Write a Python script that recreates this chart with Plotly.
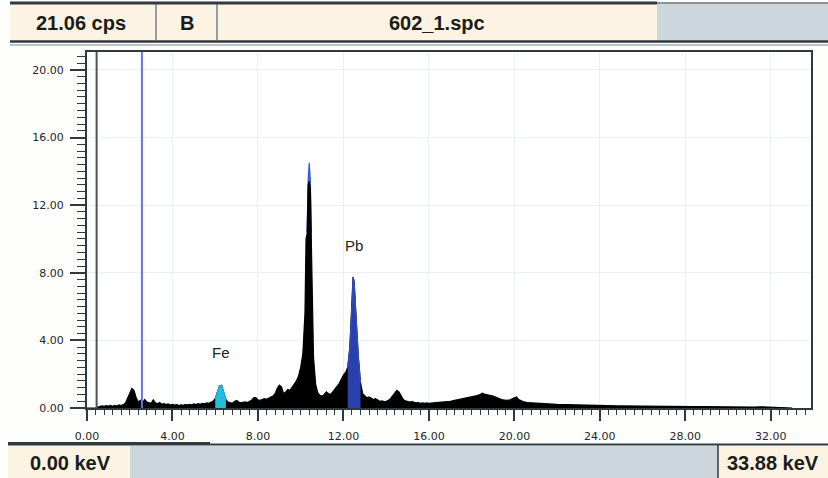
import plotly.graph_objects as go

# ---------------- data ----------------
energy_kev = [0.0, 0.4, 0.5, 0.6, 0.7, 0.8, 0.9, 1.0, 1.1, 1.2, 1.3, 1.4, 1.5, 1.6, 1.7, 1.8, 1.9,
              2.0, 2.1, 2.2, 2.3, 2.4, 2.5, 2.6, 2.7, 2.8, 2.9, 3.0, 3.1, 3.2, 3.3, 3.4, 3.5, 3.6,
              3.7, 3.8, 3.9, 4.0, 4.1, 4.2, 4.3, 4.4, 4.5, 4.6, 4.7, 4.8, 4.9, 5.0, 5.1, 5.2, 5.3,
              5.4, 5.5, 5.6, 5.7, 5.8, 5.9, 6.0, 6.1, 6.2, 6.3, 6.4, 6.5, 6.6, 6.7, 6.8, 6.9, 7.0,
              7.1, 7.2, 7.3, 7.4, 7.5, 7.6, 7.7, 7.8, 7.9, 8.0, 8.1, 8.2, 8.3, 8.4, 8.5, 8.6, 8.7,
              8.8, 8.9, 9.0, 9.1, 9.2, 9.3, 9.4, 9.5, 9.6, 9.7, 9.8, 9.9, 10.0, 10.1, 10.2, 10.25,
              10.3, 10.35, 10.4, 10.45, 10.5, 10.55, 10.6, 10.7, 10.8, 10.9, 11.0, 11.1, 11.2,
              11.3, 11.4, 11.5, 11.6, 11.7, 11.8, 11.9, 12.0, 12.1, 12.2, 12.3, 12.4, 12.45, 12.5,
              12.55, 12.6, 12.7, 12.8, 12.9, 13.0, 13.1, 13.2, 13.3, 13.4, 13.5, 13.6, 13.7, 13.8,
              13.9, 14.0, 14.1, 14.2, 14.3, 14.4, 14.5, 14.6, 14.7, 14.8, 14.9, 15.0, 15.1, 15.2,
              15.3, 15.4, 15.5, 15.6, 15.7, 15.8, 15.9, 16.0, 16.2, 16.4, 16.6, 16.8, 17.0, 17.2,
              17.4, 17.6, 17.8, 18.0, 18.2, 18.4, 18.5, 18.6, 18.8, 19.0, 19.2, 19.4, 19.6, 19.8,
              20.0, 20.1, 20.2, 20.4, 20.6, 20.8, 21.0, 21.2, 21.4, 21.6, 21.8, 22.0, 22.4, 22.8,
              23.2, 23.6, 24.0, 24.4, 24.8, 25.2, 25.6, 26.0, 26.4, 26.8, 27.2, 27.6, 28.0, 28.4,
              28.8, 29.2, 29.6, 30.0, 30.4, 30.8, 31.2, 31.6, 32.0, 32.4, 32.8, 33.0]

counts_cps = [0.0, 0.0, 0.05, 0.08, 0.12, 0.10, 0.14, 0.12, 0.15, 0.10, 0.16, 0.12, 0.18, 0.15, 0.20,
              0.30, 0.55, 0.85, 1.15, 1.05, 0.60, 0.35, 0.45, 0.30, 0.50, 0.35, 0.30, 0.28, 0.48,
              0.30, 0.25, 0.32, 0.22, 0.26, 0.20, 0.24, 0.18, 0.22, 0.17, 0.20, 0.15, 0.19, 0.16,
              0.20, 0.18, 0.22, 0.19, 0.24, 0.20, 0.26, 0.22, 0.28, 0.25, 0.30, 0.28, 0.35, 0.40,
              0.55, 0.90, 1.30, 1.35, 0.95, 0.50, 0.35, 0.30, 0.28, 0.38, 0.45, 0.35, 0.30, 0.34,
              0.36, 0.32, 0.40, 0.45, 0.60, 0.62, 0.48, 0.45, 0.50, 0.55, 0.52, 0.60, 0.65, 0.70,
              0.85, 1.15, 1.35, 1.25, 0.85, 0.95, 1.10, 1.05, 1.25, 1.45, 1.60, 1.90, 2.40, 3.20,
              5.60, 10.0, 10.3, 13.2, 13.4, 13.0, 10.2, 6.0, 3.0, 1.4, 0.90, 0.75, 0.70, 0.80,
              0.95, 0.85, 0.80, 0.95, 1.10, 1.30, 1.45, 1.70, 1.95, 2.10, 2.40, 3.60, 6.20, 7.75,
              7.50, 6.60, 5.20, 3.00, 1.50, 0.85, 0.70, 0.60, 0.65, 0.55, 0.50, 0.55, 0.45, 0.40,
              0.42, 0.38, 0.40, 0.45, 0.55, 0.70, 0.90, 1.05, 0.95, 0.70, 0.50, 0.42, 0.40, 0.35,
              0.38, 0.33, 0.30, 0.32, 0.28, 0.30, 0.27, 0.30, 0.28, 0.30, 0.32, 0.35, 0.38, 0.40,
              0.45, 0.50, 0.55, 0.60, 0.68, 0.72, 0.80, 0.88, 0.82, 0.78, 0.70, 0.60, 0.50, 0.45,
              0.48, 0.60, 0.65, 0.50, 0.38, 0.32, 0.30, 0.28, 0.26, 0.25, 0.24, 0.22, 0.21, 0.20,
              0.18, 0.17, 0.16, 0.15, 0.14, 0.13, 0.12, 0.12, 0.11, 0.10, 0.10, 0.09, 0.09, 0.08,
              0.08, 0.08, 0.07, 0.07, 0.07, 0.06, 0.06, 0.06, 0.07, 0.06, 0.05, 0.03, 0.0]

# blue tip of the strong peak (overlay spectrum)
tip_kev = [10.3, 10.35, 10.4, 10.45, 10.5]
tip_cps = [10.4, 13.6, 14.5, 13.5, 10.4]

# element regions of interest
fe_range = [6.0, 6.5]
pb_range = [12.2, 12.85]
labels = ["Fe", "Pb"]
label_kev = [6.27, 12.49]
label_cps = [3.3, 9.6]

marker_kev = 2.57
inner_line_kev = 0.45

x_max = 33.88
y_max = 21.06
x_ticks = [0, 4, 8, 12, 16, 20, 24, 28, 32]
y_ticks = [0, 4, 8, 12, 16, 20]

header_cps = "21.06 cps"
header_mode = "B"
header_file = "602_1.spc"
footer_left = "0.00 keV"
footer_right = "33.88 keV"

# ---------------- layout helpers ----------------
W, H = 828, 478
L, R, T, B = 87, 17, 52, 70
PW, PH = W - L - R, H - T - B


def px(x):
    return (x - L) / PW


def py(y):
    return (H - B - y) / PH


CREAM = "#fcf3e2"
GREYBLUE = "#cdd6dd"
DARK = "#2f3a40"
HFONT = "Liberation Sans, Arial"
TFONT = "DejaVu Sans, Verdana"

fig = go.Figure()

fig.add_trace(go.Scatter(x=tip_kev, y=tip_cps, mode="lines", fill="tozeroy",
                         line=dict(color="#3b5ad8", width=1.2), fillcolor="#3b5ad8",
                         hoverinfo="skip", showlegend=False))

fig.add_trace(go.Scatter(x=energy_kev, y=counts_cps, mode="lines", fill="tozeroy",
                         line=dict(color="#000000", width=1.2), fillcolor="#000000",
                         showlegend=False))


def subset(lo, hi):
    xs, ys = [], []
    for e, c in zip(energy_kev, counts_cps):
        if lo <= e <= hi:
            xs.append(e)
            ys.append(c)
    return xs, ys


fe_x, fe_y = subset(*fe_range)
pb_x, pb_y = subset(*pb_range)

fig.add_trace(go.Scatter(x=fe_x, y=fe_y, mode="lines", fill="tozeroy",
                         line=dict(color="#1fb6d6", width=1), fillcolor="#22c0de",
                         showlegend=False))
fig.add_trace(go.Scatter(x=pb_x, y=pb_y, mode="lines", fill="tozeroy",
                         line=dict(color="#3552c8", width=1), fillcolor="#2a40ae",
                         showlegend=False))

shapes = []
# marker lines in the plot
shapes.append(dict(type="line", xref="x", yref="paper", x0=marker_kev, x1=marker_kev,
                   y0=0, y1=1, line=dict(color="#6a70f0", width=2), layer="above"))
shapes.append(dict(type="line", xref="x", yref="paper", x0=inner_line_kev, x1=inner_line_kev,
                   y0=0, y1=1, line=dict(color="#4a5358", width=2), layer="above"))

# header bar
shapes.append(dict(type="rect", xref="paper", yref="paper", x0=px(10), x1=px(657),
                   y0=py(41), y1=py(4), fillcolor=CREAM, line=dict(width=0), layer="below"))
shapes.append(dict(type="rect", xref="paper", yref="paper", x0=px(657), x1=px(828),
                   y0=py(41), y1=py(4), fillcolor=GREYBLUE, line=dict(width=0), layer="below"))
shapes.append(dict(type="line", xref="paper", yref="paper", x0=px(10), x1=px(657),
                   y0=py(3), y1=py(3), line=dict(color=DARK, width=3)))
shapes.append(dict(type="line", xref="paper", yref="paper", x0=px(657), x1=px(828),
                   y0=py(3), y1=py(3), line=dict(color="#8a969c", width=2)))
shapes.append(dict(type="line", xref="paper", yref="paper", x0=px(10), x1=px(828),
                   y0=py(41.5), y1=py(41.5), line=dict(color=DARK, width=2.5)))
shapes.append(dict(type="line", xref="paper", yref="paper", x0=px(10), x1=px(828),
                   y0=py(45), y1=py(45), line=dict(color="#7d878c", width=1)))
for xx in (156, 217):
    shapes.append(dict(type="line", xref="paper", yref="paper", x0=px(xx), x1=px(xx),
                       y0=py(41), y1=py(4), line=dict(color="#4a6380", width=1.2)))

# footer bar
shapes.append(dict(type="rect", xref="paper", yref="paper", x0=px(8), x1=px(130),
                   y0=py(478), y1=py(446), fillcolor=CREAM, line=dict(width=0), layer="below"))
shapes.append(dict(type="rect", xref="paper", yref="paper", x0=px(130), x1=px(718),
                   y0=py(478), y1=py(446), fillcolor=GREYBLUE, line=dict(width=0), layer="below"))
shapes.append(dict(type="rect", xref="paper", yref="paper", x0=px(718), x1=px(828),
                   y0=py(478), y1=py(446), fillcolor=CREAM, line=dict(width=0), layer="below"))
shapes.append(dict(type="line", xref="paper", yref="paper", x0=px(8), x1=px(828),
                   y0=py(444.5), y1=py(444.5), line=dict(color=DARK, width=2)))
shapes.append(dict(type="line", xref="paper", yref="paper", x0=px(8), x1=px(210),
                   y0=py(443.5), y1=py(443.5), line=dict(color=DARK, width=3)))
shapes.append(dict(type="line", xref="paper", yref="paper", x0=px(718), x1=px(718),
                   y0=py(478), y1=py(445), line=dict(color=DARK, width=1.5)))

annotations = []
for txt, xc in ((header_cps, 81), (header_mode, 187), (header_file, 437)):
    annotations.append(dict(text="<b>" + txt + "</b>", xref="paper", yref="paper",
                            x=px(xc), y=py(23), xanchor="center", yanchor="middle",
                            showarrow=False,
                            font=dict(family=HFONT, size=20, color="#1b1b1b")))
for txt, xc in ((footer_left, 70), (footer_right, 773)):
    annotations.append(dict(text="<b>" + txt + "</b>", xref="paper", yref="paper",
                            x=px(xc), y=py(463), xanchor="center", yanchor="middle",
                            showarrow=False,
                            font=dict(family=HFONT, size=20, color="#1b1b1b")))
for txt, xv, yv in zip(labels, label_kev, label_cps):
    annotations.append(dict(text=txt, x=xv, y=yv, xref="x", yref="y", showarrow=False,
                            xanchor="center", yanchor="middle",
                            font=dict(family="Liberation Sans, Arial", size=15, color="#222222")))

fig.update_layout(
    width=W, height=H,
    margin=dict(l=L, r=R, t=T, b=B, pad=0),
    paper_bgcolor="#fefefd",
    plot_bgcolor="#ffffff",
    shapes=shapes,
    annotations=annotations,
    showlegend=False,
)

fig.update_xaxes(
    range=[0, x_max], tickvals=x_ticks, tickformat=".2f",
    showgrid=True, gridcolor="#e8eff8", gridwidth=1, zeroline=False,
    showline=True, linecolor=DARK, linewidth=2, mirror=True,
    ticks="outside", ticklen=11, tickwidth=1.5, tickcolor=DARK,
    minor=dict(dtick=0.4, tick0=0, ticks="outside", ticklen=5, tickwidth=1.2,
               tickcolor=DARK, showgrid=False),
    tickfont=dict(family=TFONT, size=11, color="#262626"),
    ticklabelstandoff=6,
)
fig.update_yaxes(
    range=[0, y_max], tickvals=y_ticks, tickformat=".2f",
    showgrid=True, gridcolor="#e8eff8", gridwidth=1, zeroline=False,
    showline=True, linecolor=DARK, linewidth=2, mirror=True,
    ticks="outside", ticklen=15, tickwidth=1.5, tickcolor=DARK,
    minor=dict(dtick=0.4, tick0=0, ticks="outside", ticklen=8, tickwidth=1.2,
               tickcolor=DARK, showgrid=False),
    tickfont=dict(family=TFONT, size=11, color="#262626"),
    ticklabelstandoff=4,
)

fig.write_html("out.html", config={"displayModeBar": False},
               post_script="document.body.style.margin='0';")
